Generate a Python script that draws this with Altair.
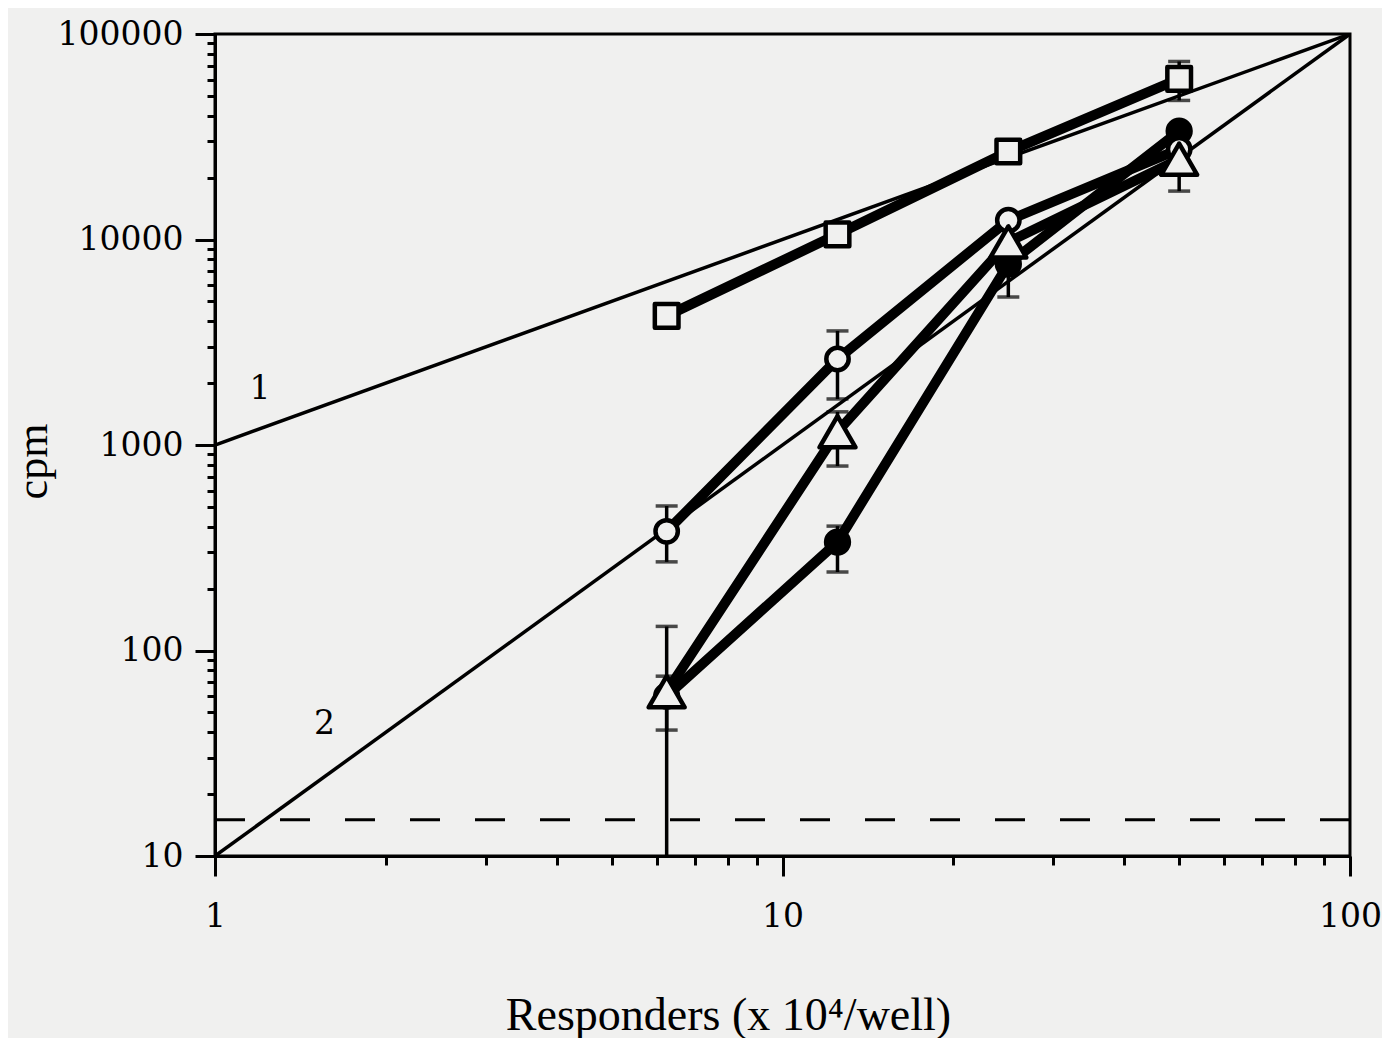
import altair as alt
import pandas as pd

# ---- data ----
x_vals = [6.25, 12.5, 25, 50]
square_y = [4250, 10600, 26800, 60500]
open_circle_y = [380, 2620, 12400, 27500]
triangle_y = [63, 1160, 9730, 24600]
filled_circle_y = [60, 337, 7600, 33700]

err_series = ["square", "open", "open", "tri", "tri", "tri", "filled", "filled", "filled"]
err_x = [50, 6.25, 12.5, 6.25, 12.5, 50, 6.25, 12.5, 25]
err_low = [47500, 270, 1675, 10, 790, 17200, 41, 241, 5250]
err_high = [73500, 505, 3590, 131, 1450, 27000, 75, 403, 9000]

ref_x = [1, 100]
ref1_y = [1000, 100000]
ref2_y = [10, 100000]
baseline_y = 15

label_text = ["1", "2"]
label_x = [1.2, 1.56]
label_y = [1875, 44]

x_ticks = [1, 2, 3, 4, 5, 6, 7, 8, 9, 10, 20, 30, 40, 50, 60, 70, 80, 90, 100]
y_ticks = [m * 10 ** e for e in range(1, 5) for m in range(1, 10)] + [100000]

BG = "#f0f0ef"
NUM_FONT = "DejaVu Serif"
TXT_FONT = "Liberation Serif"

series_names = ["filled", "square", "open", "tri"]
series_vals = [filled_circle_y, square_y, open_circle_y, triangle_y]
rows = []
for s, ys in zip(series_names, series_vals):
    for xv, yv in zip(x_vals, ys):
        rows.append({"series": s, "x": xv, "y": yv})
pts = pd.DataFrame(rows)

err = pd.DataFrame({"series": err_series, "x": err_x, "lo": err_low, "hi": err_high})
caps = pd.DataFrame(
    [{"x": xv, "y": v} for xv, lo, hi in zip(err_x, err_low, err_high) for v in (lo, hi) if v > 10]
)

refs = pd.DataFrame(
    [{"line": "1", "x": xv, "y": yv} for xv, yv in zip(ref_x, ref1_y)]
    + [{"line": "2", "x": xv, "y": yv} for xv, yv in zip(ref_x, ref2_y)]
)
dash = pd.DataFrame({"x": ref_x, "y": [baseline_y, baseline_y]})
labels = pd.DataFrame({"t": label_text, "x": label_x, "y": label_y})

xscale = alt.Scale(type="log", domain=[1, 100], nice=False)
yscale = alt.Scale(type="log", domain=[10, 100000], nice=False)

xaxis = alt.Axis(
    values=x_ticks,
    labelExpr="indexof([1,10,100], datum.value) >= 0 ? format(datum.value, 'd') : ''",
    tickSize={"condition": {"test": "indexof([1,10,100], datum.value) >= 0", "value": 20}, "value": 9},
    tickWidth=3, domainWidth=3, tickColor="black", domainColor="black",
    labelFont=NUM_FONT, labelFontSize=33, labelColor="black", labelPadding=24,
    labelFlush=False, labelOverlap=False, grid=False,
    title="Responders (x 10⁴/well)", titleFont=TXT_FONT, titleFontSize=46,
    titleFontWeight="normal", titleColor="black", titlePadding=60,
    titleX=513, titleAlign="center",
)
yaxis = alt.Axis(
    values=y_ticks,
    labelExpr="indexof([10,100,1000,10000,100000], datum.value) >= 0 ? format(datum.value, 'd') : ''",
    tickSize={"condition": {"test": "indexof([10,100,1000,10000,100000], datum.value) >= 0", "value": 20}, "value": 8},
    tickWidth=3, domainWidth=3, tickColor="black", domainColor="black",
    labelFont=NUM_FONT, labelFontSize=33, labelColor="black", labelPadding=12,
    labelFlush=False, labelOverlap=False, grid=False,
    title="cpm", titleFont=TXT_FONT, titleFontSize=44,
    titleFontWeight="normal", titleColor="black", titlePadding=2,
    titleY=427, titleAlign="center",
)

X = alt.X("x:Q", scale=xscale, axis=xaxis)
Y = alt.Y("y:Q", scale=yscale, axis=yaxis)
Xp = alt.X("x:Q", scale=xscale)
Yp = alt.Y("y:Q", scale=yscale)

ref_layer = alt.Chart(refs).mark_line(color="black", strokeWidth=3.5, clip=True).encode(
    x=X, y=Y, detail="line:N"
)
dash_layer = alt.Chart(dash).mark_line(color="black", strokeWidth=3, strokeDash=[30, 35]).encode(
    x=Xp, y=Yp
)
line_layer = alt.Chart(pts).mark_line(color="black", strokeWidth=10, strokeJoin="round").encode(
    x=Xp, y=Yp, detail="series:N", order="x:Q"
)
err_layer = alt.Chart(err).mark_rule(color="black", strokeWidth=3.5, clip=True).encode(
    x=Xp, y=alt.Y("lo:Q", scale=yscale), y2="hi:Q"
)
cap_layer = alt.Chart(caps).mark_tick(color="black", thickness=3.5, size=22, orient="horizontal").encode(
    x=Xp, y=Yp
)

marker_style = {
    "filled": dict(shape="circle", size=520, fill="black"),
    "square": dict(shape="square", size=560, fill=BG),
    "open": dict(shape="circle", size=500, fill=BG),
    "tri": dict(shape="triangle-up", size=1300, fill=BG),
}
point_layers = []
for s in series_names:
    st = marker_style[s]
    point_layers.append(
        alt.Chart(pts).transform_filter(alt.datum.series == s).mark_point(
            filled=True, stroke="black", strokeWidth=4.5, strokeJoin="round", opacity=1,
            shape=st["shape"], size=st["size"], fill=st["fill"],
        ).encode(x=Xp, y=Yp)
    )

text_layer = alt.Chart(labels).mark_text(font=NUM_FONT, fontSize=33, color="black").encode(
    x=Xp, y=Yp, text="t:N"
)

chart = alt.layer(
    ref_layer, dash_layer, line_layer, err_layer, cap_layer, *point_layers, text_layer
).properties(
    width=1135, height=822, background=BG,
    padding={"left": 3, "top": 10, "right": 0, "bottom": 0},
).configure_view(stroke="black", strokeWidth=3)

chart.save("out.html", embed_options={"renderer": "svg", "actions": False})
